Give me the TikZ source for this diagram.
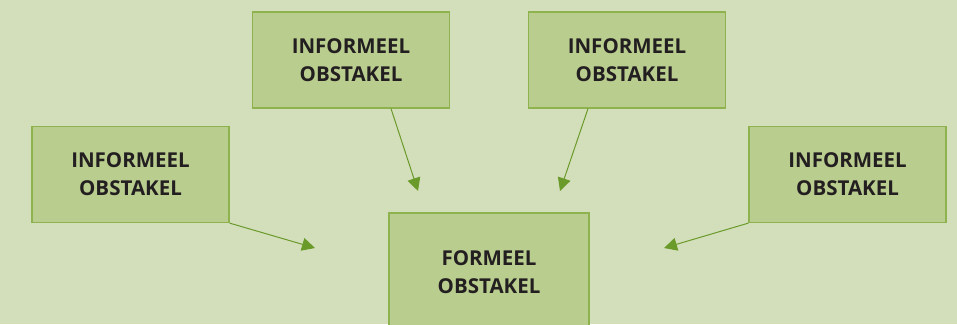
\documentclass[tikz,border=0pt]{standalone}
\usepackage{fontspec}
\setmainfont{Open Sans}
\usepackage{tikz}
\usetikzlibrary{arrows.meta}

\definecolor{achtergrond}{HTML}{D3DFBA}
\definecolor{vulling}{HTML}{B9CD8F}
\definecolor{rand}{HTML}{8DB24E}
\definecolor{pijlkleur}{HTML}{6A9A2A}
\definecolor{tekst}{HTML}{231F20}

\tikzset{
  obstakel/.style={draw=rand, line width=1.2pt, fill=vulling, align=center,
    text=tekst, font=\fontsize{20.5}{28}\selectfont\bfseries,
    minimum width=197pt, minimum height=96pt, inner sep=0pt},
  pijl/.style={draw=pijlkleur, line width=1pt,
    -{Triangle[length=13pt,width=13pt]}, pijlkleur}
}

\begin{document}
\begin{tikzpicture}[x=1pt, y=-1pt]
    % achtergrond
    \fill[achtergrond] (0,0) rectangle (957,324);
    \useasboundingbox (0,0) rectangle (957,324);
    \clip (0,0) rectangle (957,324);

    % draw boxes
    \node[obstakel] (boven1) at (351,60) {INFORMEEL\\OBSTAKEL};
    \node[obstakel] (boven2) at (627,60) {INFORMEEL\\OBSTAKEL};
    \node[obstakel] (links) at (130.5,174.5) {INFORMEEL\\OBSTAKEL};
    \node[obstakel] (rechts) at (847.5,174.5) {INFORMEEL\\OBSTAKEL};
    \node[obstakel, minimum width=200pt, minimum height=118pt] (formeel) at (489,272) {FORMEEL\\OBSTAKEL};

    % draw arrow ends
    \coordinate (punt1) at (418,191);
    \coordinate (punt2) at (560,191);
    \coordinate (punt3) at (315,248);
    \coordinate (punt4) at (664,248);

    % draw arrows
    \draw[pijl] ([xshift=40pt]boven1.south) -- (punt1);
    \draw[pijl] ([xshift=-39pt]boven2.south) -- (punt2);
    \draw[pijl] (links.south east) -- (punt3);
    \draw[pijl] (rechts.south west) -- (punt4);
  \end{tikzpicture}
\end{document}
